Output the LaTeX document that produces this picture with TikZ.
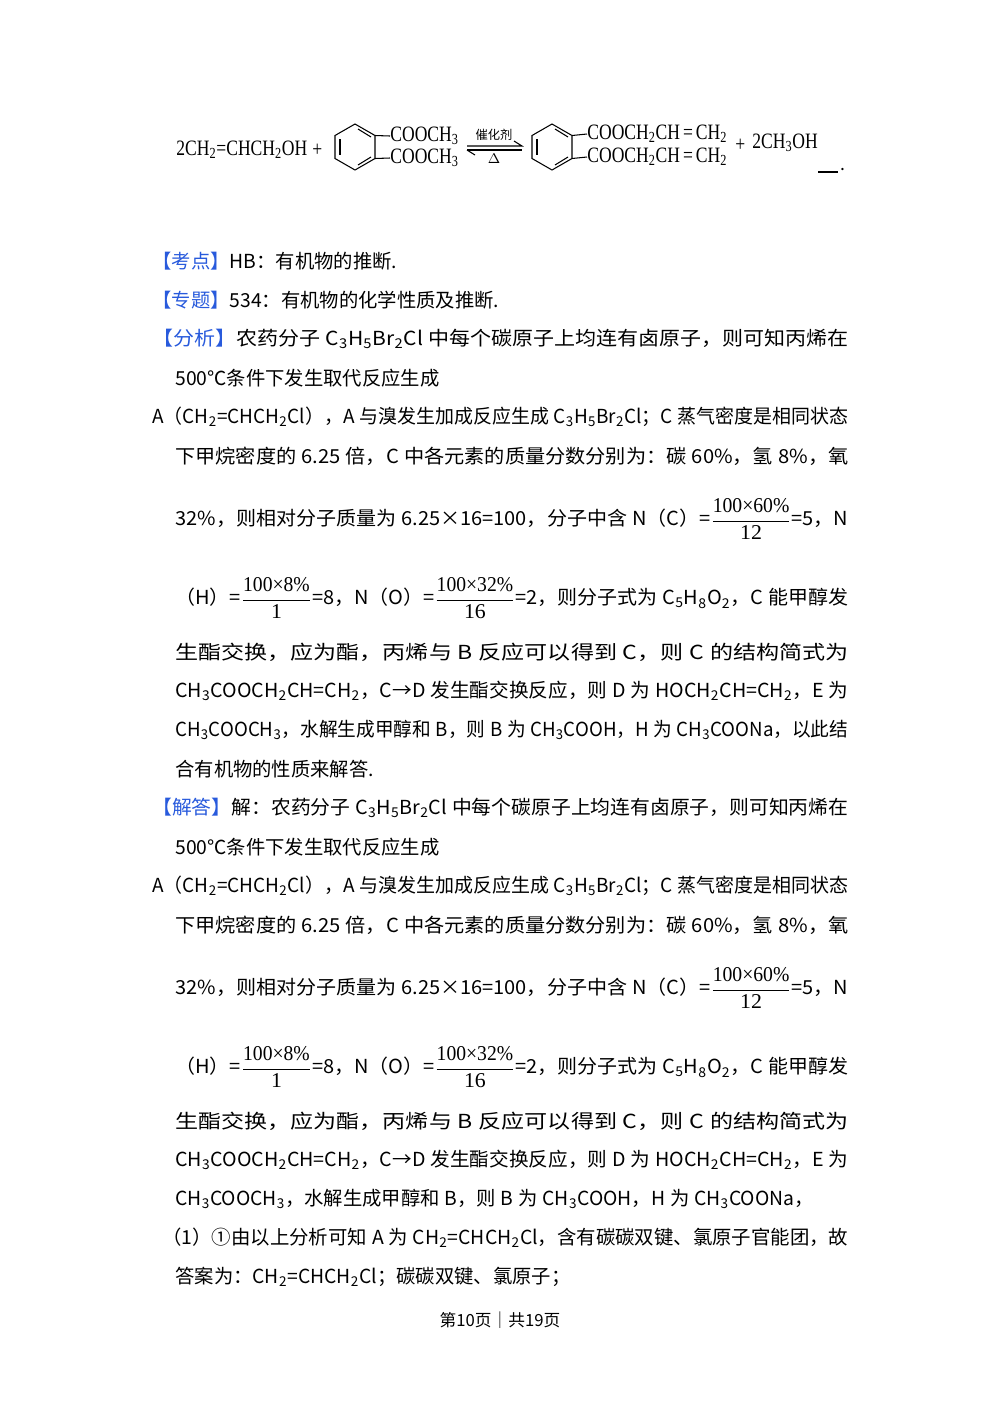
\documentclass[tikz,border=0pt]{standalone}
\usepackage{fontspec}
\usepackage{graphicx}
\setmainfont{Noto Sans CJK SC}
\newfontfamily\serif{Liberation Serif}
\newcommand{\s}[1]{\textsubscript{#1}}
\newcommand{\cs}[1]{\scalebox{0.8}[1]{\serif\fontsize{12.5}{13}\selectfont #1}}
\newcommand{\fr}[2]{\ensuremath{\displaystyle\frac{\hbox{\scalebox{0.9}[1]{\serif\fontsize{12}{13}\selectfont #1}}}{\hbox{\serif\fontsize{12}{13}\selectfont #2}}}}
\definecolor{kb}{RGB}{40,90,220}
\newcommand{\hdtag}[1]{\textcolor{kb}{【#1】}}
\newcommand{\tightsp}{\spaceskip=0.25em\relax}
\newcommand{\jl}[2]{\resizebox{#1\dimexpr0.02cm}{\height}{#2}}
\begin{document}
\begin{tikzpicture}[x=0.02cm,y=-0.02cm,
  ln/.style={anchor=west,inner sep=0pt,font=\fontsize{11}{13}\selectfont\tightsp},
  ch/.style={anchor=west,inner sep=0pt},
  bz/.style={line width=0.6pt}]
\useasboundingbox (0,0) rectangle (1000,1414);
% reaction
\node[ch] (r1) at (176,150) {\cs{2CH\s{2}=CHCH\s{2}OH}};
\node[ch] (p1) at (312,150) {\cs{+}};
\foreach \cx/\nm in {355/b1,552/b2}{
  \coordinate (\nm) at (\cx,147);
  \draw[bz] (\cx,124) -- (\cx+20,135.5) -- (\cx+20,158.5) -- (\cx,170) -- (\cx-20,158.5) -- (\cx-20,135.5) -- cycle;
  \draw[bz] (\cx-15,139) -- (\cx-15,155);
  \draw[bz] (\cx+3,129) -- (\cx+16,137);
  \draw[bz] (\cx+3,165) -- (\cx+16,157);
}
\node[ch] (e1) at (390,136) {\cs{COOCH\s{3}}};
\node[ch] (e2) at (390,158) {\cs{COOCH\s{3}}};
\draw[bz] (375,135.5) -- (e1.west);
\draw[bz] (375,158.5) -- (e2.west);
\node[ch] (p2a) at (587,134) {\cs{COOCH\s{2}CH\,=\,CH\s{2}}};
\node[ch] (p2b) at (587,157) {\cs{COOCH\s{2}CH\,=\,CH\s{2}}};
\draw[bz] (572,135.5) -- (p2a.west);
\draw[bz] (572,158.5) -- (p2b.west);
\coordinate (aL) at (467,146); \coordinate (aR) at (522,146);
\draw[bz] (aL) -- (aR) -- ++(-8,-5);
\draw[bz] (467,150) -- (522,150);
\draw[bz] (467,150) -- ++(8,5);
\node[inner sep=0pt,font=\fontsize{7}{8}\selectfont] (cat) at (494,135) {催化剂};
\node[inner sep=0pt,font=\fontsize{8}{9}\selectfont] (dl) at (494,159) {$\Delta$};
\node[ch] (p3) at (735,145) {\cs{+}};
\node[ch] (r4) at (752,143) {\cs{2CH\s{3}OH}};
\draw[line width=0.7pt] (818,172) -- (838,172);
\node[inner sep=0pt] (dot) at (843,170) {.};
% text
\node[ln] (t1) at (152,261) {\hdtag{考点}HB：有机物的推断.};
\node[ln] (t2) at (152,300) {\hdtag{专题}534：有机物的化学性质及推断.};
\foreach \dy/\hd in {0/{\hdtag{分析}},469/{\hdtag{解答}解：}}{
\node[ln] at (152,339+\dy) {\jl{696}{\hd 农药分子 C\s{3}H\s{5}Br\s{2}Cl 中每个碳原子上均连有卤原子，则可知丙烯在}};
\node[ln] at (175,378+\dy) {500℃条件下发生取代反应生成};
\node[ln] at (152,417+\dy) {\jl{696}{A（CH\s{2}=CHCH\s{2}Cl），A 与溴发生加成反应生成 C\s{3}H\s{5}Br\s{2}Cl；C 蒸气密度是相同状态}};
\node[ln] at (175,456+\dy) {\jl{673}{下甲烷密度的 6.25 倍，C 中各元素的质量分数分别为：碳 60\%，氢 8\%，氧}};
\node[ln] at (175,519+\dy) {\jl{673}{32\%，则相对分子质量为 6.25×16=100，分子中含 N（C）=\fr{100×60\%}{12}=5，N}};
\node[ln] at (175,598+\dy) {\jl{673}{（H）=\fr{100×8\%}{1}=8，N（O）=\fr{100×32\%}{16}=2，则分子式为 C\s{5}H\s{8}O\s{2}，C 能甲醇发}};
\node[ln] at (175,652+\dy) {\jl{673}{生酯交换，应为酯，丙烯与 B 反应可以得到 C，则 C 的结构简式为}};
\node[ln] at (175,691+\dy) {\jl{673}{CH\s{3}COOCH\s{2}CH=CH\s{2}，C→D 发生酯交换反应，则 D 为 HOCH\s{2}CH=CH\s{2}，E 为}};
}
\node[ln] (t10) at (175,730) {\jl{673}{CH\s{3}COOCH\s{3}，水解生成甲醇和 B，则 B 为 CH\s{3}COOH，H 为 CH\s{3}COONa，以此结}};
\node[ln] (t11) at (175,769) {合有机物的性质来解答.};
\node[ln] (t20) at (175,1199) {CH\s{3}COOCH\s{3}，水解生成甲醇和 B，则 B 为 CH\s{3}COOH，H 为 CH\s{3}COONa，};
\node[ln] (t21) at (162,1238) {\jl{686}{（1）①由以上分析可知 A 为 CH\s{2}=CHCH\s{2}Cl，含有碳碳双键、氯原子官能团，故}};
\node[ln] (t22) at (175,1277) {答案为：CH\s{2}=CHCH\s{2}Cl；碳碳双键、氯原子；};
\node[inner sep=0pt,font=\fontsize{9.5}{11}\selectfont] (pg) at (500,1320) {第10页｜共19页};
\end{tikzpicture}
\end{document}
